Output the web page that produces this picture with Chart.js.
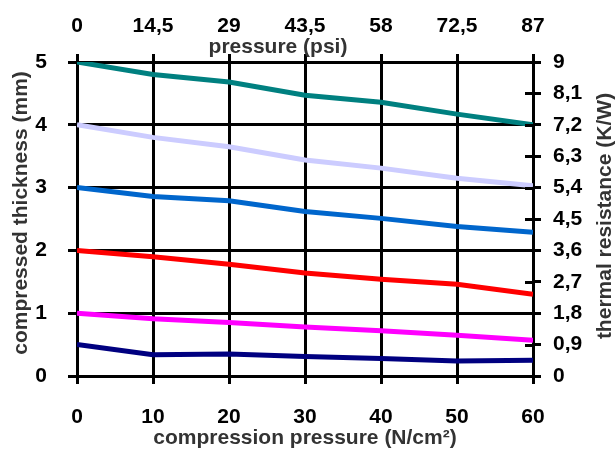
<!DOCTYPE html>
<html>
<head>
<meta charset="utf-8">
<script src="https://cdn.jsdelivr.net/npm/chart.js@4"></script>
<style>
    html, body { margin: 0; padding: 0; background: #fff; }
</style>
</head>
<body>
<canvas id="myChart" width="616" height="453"></canvas>
<script>
// compression pressure (N/cm2) on the bottom axis
var pressureNcm2 = [0, 10, 20, 30, 40, 50, 60];
// tick labels of the secondary axes
var psiTicks = [0, 14.5, 29, 43.5, 58, 72.5, 87];
var resistanceTicks = [0, 0.9, 1.8, 2.7, 3.6, 4.5, 5.4, 6.3, 7.2, 8.1, 9];

// compressed thickness (mm) for each pad
var thicknessTeal     = [5.0, 4.80, 4.68, 4.47, 4.36, 4.17, 4.00];
var thicknessLavender = [4.0, 3.80, 3.65, 3.44, 3.31, 3.15, 3.03];
var thicknessBlue     = [3.0, 2.86, 2.79, 2.62, 2.51, 2.38, 2.29];
var thicknessRed      = [2.0, 1.90, 1.78, 1.64, 1.54, 1.46, 1.30];
var thicknessMagenta  = [1.0, 0.91, 0.85, 0.78, 0.72, 0.65, 0.57];
var thicknessNavy     = [0.50, 0.34, 0.35, 0.31, 0.28, 0.24, 0.25];

var titleFont = "bold 21px 'Liberation Sans', Arial, sans-serif";
var tickFont = { family: "'Liberation Sans', Arial, sans-serif", size: 21, weight: "bold" };

function toPoints(values) {
    return pressureNcm2.map(function(x, i) { return { x: x, y: values[i] }; });
}

function commaLabel(v) {
    return String(Math.round(v * 10) / 10).replace(".", ",");
}

function line(values, color) {
    return {
        data: toPoints(values),
        borderColor: color,
        borderWidth: 5,
        pointRadius: 0,
        tension: 0,
        xAxisID: "x",
        yAxisID: "y"
    };
}

// axis titles are drawn by hand: the top one sits inside its labels, the right one reads upwards
var axisTitles = {
    id: "axisTitles",
    afterDraw: function(chart) {
        var c = chart.ctx;
        var y2 = chart.scales.y2;
        var area = chart.chartArea;
        c.save();
        // inner half of the right axis ticks
        c.strokeStyle = "#000";
        c.lineWidth = 3;
        y2.ticks.forEach(function(t) {
            var py = Math.round(y2.getPixelForValue(t.value)) + 0.5;
            c.beginPath();
            c.moveTo(area.right - 8, py);
            c.lineTo(area.right, py);
            c.stroke();
        });

        c.font = titleFont;
        c.fillStyle = "#333";
        c.textAlign = "center";
        c.textBaseline = "middle";
        c.fillText("pressure (psi)", 278, 47);
        c.fillText("compression pressure (N/cm²)", 305, 438);

        c.save();
        c.translate(21, 213);
        c.rotate(-Math.PI / 2);
        c.fillText("compressed thickness (mm)", 0, 0);
        c.restore();

        c.save();
        c.translate(605, 216);
        c.rotate(-Math.PI / 2);
        c.fillText("thermal resistance (K/W)", 0, 0);
        c.restore();
        c.restore();
    }
};

var ctx = document.getElementById("myChart").getContext("2d");
var myChart = new Chart(ctx, {
    type: "line",
    data: {
        datasets: [
            line(thicknessNavy, "#000080"),
            line(thicknessMagenta, "#ff00ff"),
            line(thicknessRed, "#ff0000"),
            line(thicknessBlue, "#0066cc"),
            line(thicknessLavender, "#ccccff"),
            line(thicknessTeal, "#008080")
        ]
    },
    options: {
        responsive: false,
        animation: false,
        layout: { padding: 0 },
        plugins: {
            legend: { display: false },
            tooltip: { enabled: false }
        },
        scales: {
            x: {
                type: "linear",
                position: "bottom",
                min: 0,
                max: 60,
                ticks: { stepSize: 10, color: "#000", font: tickFont, padding: 21, maxRotation: 0 },
                grid: { color: "#000", lineWidth: 3, tickLength: 8 },
                border: { color: "#000", width: 3 },
                afterFit: function(s) { s.height = 77; }
            },
            x2: {
                type: "linear",
                position: "top",
                min: 0,
                max: 87,
                afterBuildTicks: function(s) {
                    s.ticks = psiTicks.map(function(v) { return { value: v }; });
                },
                ticks: { color: "#000", font: tickFont, padding: 15, maxRotation: 0, callback: commaLabel },
                grid: { drawOnChartArea: false, color: "#000", lineWidth: 3, tickLength: 8 },
                border: { color: "#000", width: 3 },
                afterFit: function(s) { s.height = 62; }
            },
            y: {
                type: "linear",
                position: "left",
                min: 0,
                max: 5,
                ticks: { stepSize: 1, color: "#000", font: tickFont, padding: 21 },
                grid: { color: "#000", lineWidth: 3, tickLength: 9 },
                border: { color: "#000", width: 3 },
                afterFit: function(s) { s.width = 77; }
            },
            y2: {
                type: "linear",
                position: "right",
                min: 0,
                max: 9,
                afterBuildTicks: function(s) {
                    s.ticks = resistanceTicks.map(function(v) { return { value: v }; });
                },
                ticks: { color: "#000", font: tickFont, padding: 12, callback: commaLabel },
                grid: { drawOnChartArea: false, color: "#000", lineWidth: 3, tickLength: 8 },
                border: { color: "#000", width: 3 },
                afterFit: function(s) { s.width = 83; }
            }
        }
    },
    plugins: [axisTitles]
});
</script>
</body>
</html>
